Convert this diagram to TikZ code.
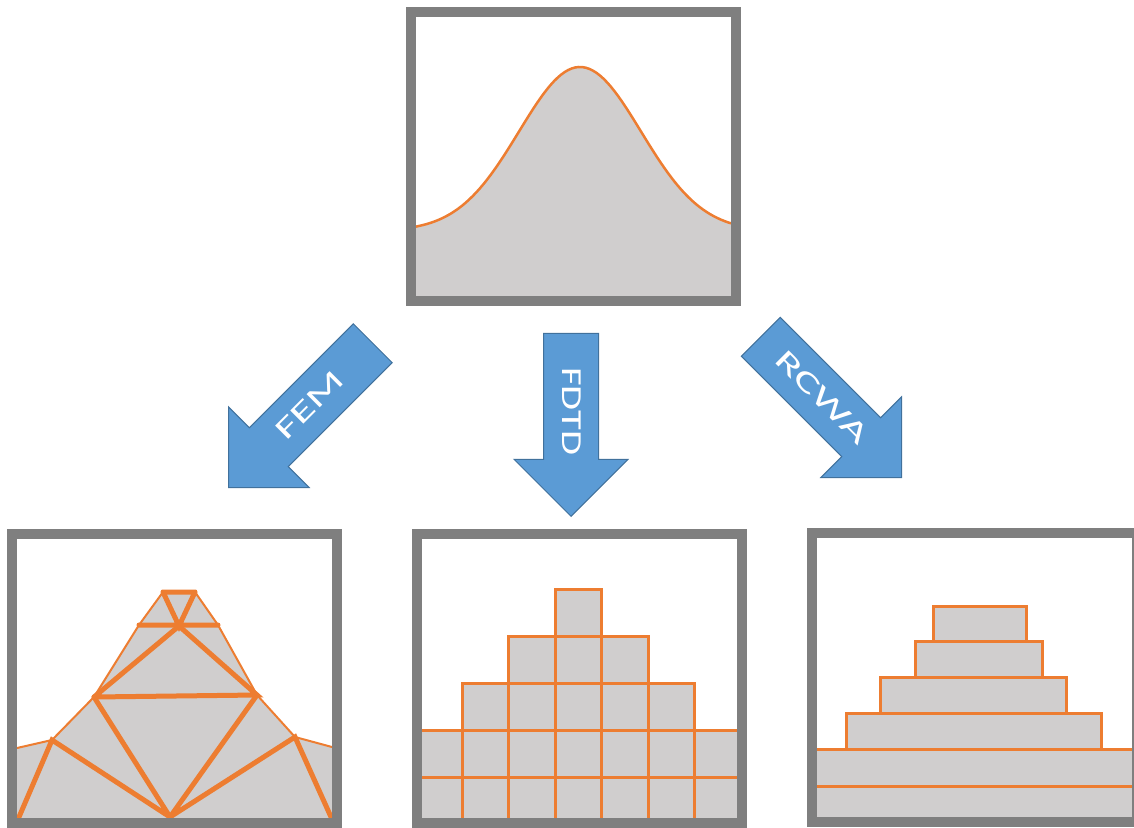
\documentclass[tikz,border=0pt]{standalone}
\usepackage{fontspec}
\newfontfamily\calibri{Carlito}
\usetikzlibrary{shapes.arrows,positioning}
\definecolor{framegray}{HTML}{7F7F7F}
\definecolor{shapegray}{HTML}{D0CECE}
\definecolor{lineorange}{HTML}{ED7D31}
\definecolor{arrowblue}{HTML}{5B9BD5}
\definecolor{arrowedge}{HTML}{41719C}
\tikzset{panel/.style={
    draw=framegray, line width=10pt,
    minimum width=325pt, minimum height=289pt,
    inner sep=0pt
  },
  block arrow/.style={
    single arrow, draw=arrowedge, fill=arrowblue, line width=1pt,
    text=white, font=\calibri\fontsize{29}{29}\selectfont,
    text height=17pt, text depth=0pt,
    inner ysep=18.5pt, inner xsep=0pt,
    single arrow head extend=29.5pt, single arrow head indent=0pt,
    minimum height=#1
  },
  block arrow/.default=200pt,
  profile/.style={draw=lineorange, line width=2.5pt},
  mesh/.style={draw=lineorange, line width=5pt, line cap=round},
  cell/.style={fill=shapegray, draw=lineorange, line width=3pt}
}

\begin{document}
\begin{tikzpicture}[x=1pt,y=-1pt]
    \useasboundingbox (0,0) rectangle (1134,827);
    % smooth surface
    \begin{scope}
        \clip (416,16) rectangle (731,296);
        \fill[shapegray] (416,300) -- plot[domain=416:731,samples=90] (\x,{231-164*exp(-0.5*((\x-580)/61)^2)}) -- (731,300) -- cycle;
        \draw[profile] plot[domain=416:731,samples=90] (\x,{231-164*exp(-0.5*((\x-580)/61)^2)});
    \end{scope}
    % FEM mesh
    \coordinate (a) at (17,748);
    \coordinate (b) at (52,740);
    \coordinate (c) at (94,697);
    \coordinate (d) at (139,625);
    \coordinate (e) at (163,592);
    \coordinate (f) at (195,592);
    \coordinate (g) at (218,625);
    \coordinate (h) at (257,695);
    \coordinate (i) at (295,737);
    \coordinate (j) at (332,747);
    \coordinate (m) at (179,626);
    \coordinate (o) at (170,817);
    \coordinate (bl) at (19,817);
    \coordinate (br) at (331,817);
    \begin{scope}
        \clip (17,539) rectangle (332,817);
        \fill[shapegray] (17,820) -- (a) -- (b) -- (c) -- (d) -- (e) -- (f) -- (g) -- (h) -- (i) -- (j) -- (332,820) -- cycle;
        \draw[profile, line width=2pt] (a) -- (b) -- (c) -- (d) -- (e) -- (f) -- (g) -- (h) -- (i) -- (j);
        \draw[mesh] (e) -- (f) (e) -- (m) -- (f) (d) -- (g);
        \draw[mesh] (c) -- (m) -- (h) -- (c);
        \draw[mesh] (bl) -- (b) -- (o) -- (c) (o) -- (h) (o) -- (i) -- (br);
    \end{scope}
    % FDTD grid
    \begin{scope}
        \clip (421,539) rectangle (737,818);
        \foreach \r/\a/\b in {0/3/3,1/2/4,2/1/5,3/0/6,4/0/6}
            \foreach \k in {\a,...,\b}
                \draw[cell] ({416.1+46.4*\k},{589+47*\r}) rectangle +(46.4,47);
    \end{scope}
    % RCWA layers
    \begin{scope}
        \clip (817,537) rectangle (1132,817);
        \draw[cell] (933,606) rectangle (1026,641);
        \draw[cell] (915,641) rectangle (1042,677);
        \draw[cell] (880,677) rectangle (1066,713);
        \draw[cell] (846,713) rectangle (1101,749);
        \draw[cell] (810,749) rectangle (1140,786);
        \draw[cell] (810,786) rectangle (1140,830);
    \end{scope}
    % frames
    \node[panel] (source) at (573.5,156) {};
    \node[panel] (fem) at (174.5,678) {};
    \node[panel] (fdtd) at (579,678.5) {};
    \node[panel] (rcwa) at (974.5,677) {};
    % methods
    \node[block arrow=204pt, shape border rotate=180, rotate=45, anchor=tip] (femarrow) at (228,488) {\scalebox{1.62}[1]{FEM}};
    \node[block arrow=183pt, rotate=-90, anchor=tip] (fdtdarrow) at (571,517) {\scalebox{1.4}[1]{FDTD}};
    \node[block arrow=199pt, rotate=-45, anchor=tip] (rcwaarrow) at (902,478) {\scalebox{1.66}[1]{RCWA}};
\end{tikzpicture}
\end{document}
